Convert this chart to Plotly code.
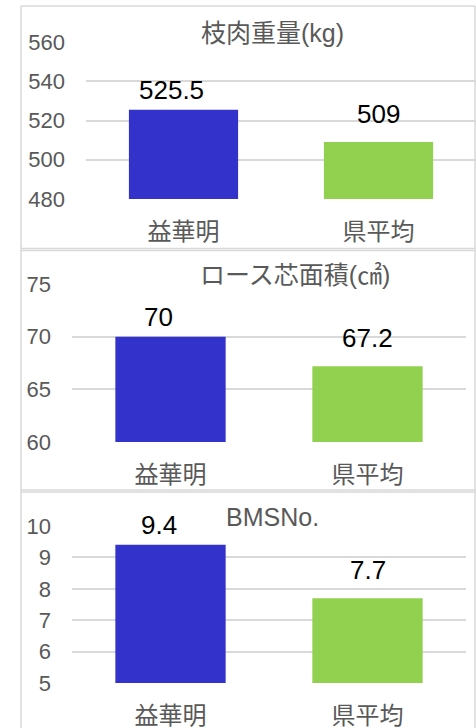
import plotly.graph_objects as go

W, H = 476, 728

categories = ["益華明", "県平均"]
carcass_weight = [525.5, 509]
loin_area = [70, 67.2]
bms_no = [9.4, 7.7]

titles = ["枝肉重量(kg)", "ロース芯面積(㎠)", "BMSNo."]
colors = ["#3333cc", "#92d050"]

FONT = "Liberation Sans, Arial, Noto Sans CJK JP, sans-serif"
GRAY = "#595959"
GRID = "#d9d9d9"

# label offsets (style): first label sits a bit left and lower, like the original
label_xshift = [-12, 0]
label_yshift = [3, 11]

def px_x(p):
    return p / W

def px_y(p):
    return 1 - p / H

fig = go.Figure()

panels = [
    dict(vals=carcass_weight, rng=[480, 560], dtick=20, xdom=[86, 476], ydom=[199, 42],
         title=titles[0], tx=272, ty=33, ax=""),
    dict(vals=loin_area, rng=[60, 75], dtick=5, xdom=[72, 466], ydom=[442, 284],
         title=titles[1], tx=295, ty=275, ax="2"),
    dict(vals=bms_no, rng=[5, 10], dtick=1, xdom=[72, 466], ydom=[683, 526],
         title=titles[2], tx=272, ty=517, ax="3"),
]

layout_updates = {}
annotations = []
for p in panels:
    ax = p["ax"]
    fig.add_trace(go.Bar(
        x=categories, y=p["vals"],
        marker=dict(color=colors, line=dict(width=0)),
        xaxis="x" + ax, yaxis="y" + ax,
        showlegend=False,
        hoverinfo="skip",
    ))
    layout_updates["xaxis" + ax] = dict(
        domain=[px_x(p["xdom"][0]), px_x(p["xdom"][1])],
        anchor="y" + ax,
        showgrid=False, showline=False, zeroline=False,
        ticks="", tickfont=dict(size=24, color=GRAY, family=FONT),
        ticklabelstandoff=16,
        automargin=False,
        fixedrange=True,
    )
    layout_updates["yaxis" + ax] = dict(
        domain=[px_y(p["ydom"][0]), px_y(p["ydom"][1])],
        anchor="x" + ax,
        range=p["rng"], dtick=p["dtick"], tick0=p["rng"][0],
        showgrid=True, gridcolor=GRID, gridwidth=1.5,
        showline=False, zeroline=False,
        ticks="", tickfont=dict(size=22, color=GRAY, family=FONT),
        ticklabelstandoff=20,
        automargin=False,
        fixedrange=True,
    )
    annotations.append(dict(
        text=p["title"], xref="paper", yref="paper",
        x=px_x(p["tx"]), y=px_y(p["ty"]),
        xanchor="center", yanchor="middle", showarrow=False,
        font=dict(size=25, color=GRAY, family=FONT),
    ))
    for i, (c, v) in enumerate(zip(categories, p["vals"])):
        annotations.append(dict(
            text=f"{v:g}", xref="x" + ax, yref="y" + ax,
            x=c, y=v, xanchor="center", yanchor="bottom",
            xshift=label_xshift[i], yshift=label_yshift[i],
            showarrow=False,
            font=dict(size=26, color="#000000", family=FONT),
        ))

shapes = []
line = dict(color=GRID, width=1.5)
for xp in (21, 475):
    shapes.append(dict(type="line", xref="paper", yref="paper",
                       x0=px_x(xp), x1=px_x(xp), y0=px_y(6), y1=px_y(728), line=line, layer="below"))
for yp in (6, 248.5, 250.5, 490, 492):
    shapes.append(dict(type="line", xref="paper", yref="paper",
                       x0=px_x(21), x1=px_x(475), y0=px_y(yp), y1=px_y(yp), line=line, layer="below"))

fig.update_layout(
    width=W, height=H,
    margin=dict(l=0, r=0, t=0, b=0, autoexpand=False),
    paper_bgcolor="white", plot_bgcolor="white",
    bargap=0.44,
    font=dict(family=FONT, color=GRAY),
    annotations=annotations,
    shapes=shapes,
    **layout_updates,
)

fig.write_html(
    "out.html",
    config={"displayModeBar": False},
    post_script="document.body.style.margin='0';document.body.style.overflow='hidden';",
)
